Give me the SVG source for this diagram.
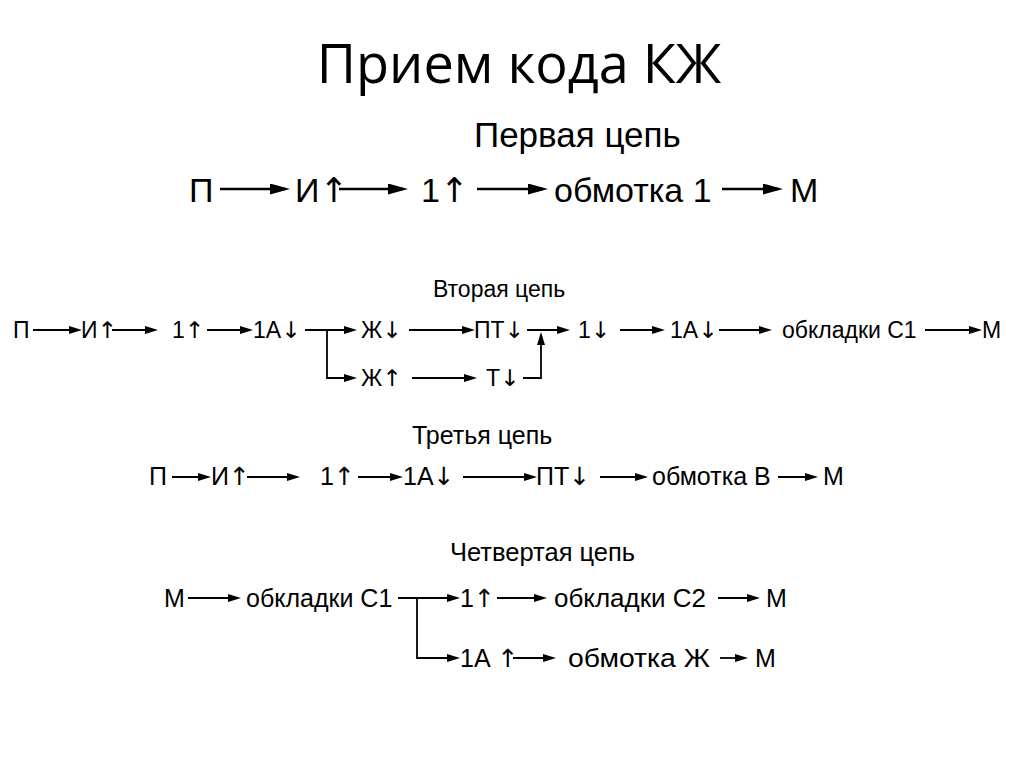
<svg xmlns="http://www.w3.org/2000/svg" width="1024" height="767" viewBox="0 0 1024 767">
<style>
text{font-family:"Liberation Sans",Arial,sans-serif;fill:#000}
.ar{font-family:"DejaVu Sans",sans-serif;fill:#000}
.title{font-family:"Open Sans","Liberation Sans",sans-serif;font-size:54px}
.r1{font-size:34px}
.h1{font-size:35px}
.r2{font-size:23px}
.r3{font-size:25px}
.r4{font-size:25px}
.h4{font-size:25.5px}
.c{fill:none;stroke:#000;stroke-width:1.8}
.cb{fill:none;stroke:#000;stroke-width:2.4}
.cs{marker-end:url(#ah)}
.cbm{marker-end:url(#ahb)}
</style>
<defs>
<marker id="ah" viewBox="0 0 13 8" refX="9" refY="4" markerWidth="13" markerHeight="8" markerUnits="userSpaceOnUse" orient="auto"><path d="M0,0 L13,4 L0,8 z" fill="#000"/></marker>
<marker id="ahb" viewBox="0 0 20 11" refX="15" refY="5.5" markerWidth="20" markerHeight="11" markerUnits="userSpaceOnUse" orient="auto"><path d="M0,0 L20,5.5 L0,11 z" fill="#000"/></marker>
</defs>
<rect width="1024" height="767" fill="#fff"/>
<text class="title" x="519" y="83" text-anchor="middle">Прием кода КЖ</text>

<!-- Chain 1 -->
<text class="h1" x="474" y="147">Первая цепь</text>
<g id="c1-p"><text class="r1" x="189" y="202">П</text></g>
<g id="c1-i"><text class="r1" x="295" y="202">И<tspan class="ar">↑</tspan></text></g>
<g id="c1-1"><text class="r1" x="421" y="202">1<tspan class="ar">↑</tspan></text></g>
<g id="c1-w1"><text class="r1" x="554" y="202">обмотка 1</text></g>
<g id="c1-m"><text class="r1" x="790" y="202">М</text></g>

<!-- Chain 2 -->
<text class="r2" x="433" y="297">Вторая цепь</text>
<g id="c2-p"><text class="r2" x="13" y="338">П</text></g>
<g id="c2-i"><text class="r2" x="81" y="338">И<tspan class="ar">↑</tspan></text></g>
<g id="c2-1"><text class="r2" x="172" y="338">1<tspan class="ar">↑</tspan></text></g>
<g id="c2-1a"><text class="r2" x="253" y="338">1А<tspan class="ar">↓</tspan></text></g>
<g id="c2-zh-d"><text class="r2" x="361" y="338">Ж<tspan class="ar">↓</tspan></text></g>
<g id="c2-pt"><text class="r2" x="474" y="338">ПТ<tspan class="ar">↓</tspan></text></g>
<g id="c2-zh-u"><text class="r2" x="361" y="386">Ж<tspan class="ar">↑</tspan></text></g>
<g id="c2-t"><text class="r2" x="486" y="386">Т<tspan class="ar">↓</tspan></text></g>
<g id="c2-1d"><text class="r2" x="578" y="338">1<tspan class="ar">↓</tspan></text></g>
<g id="c2-1a2"><text class="r2" x="670" y="338">1А<tspan class="ar">↓</tspan></text></g>
<g id="c2-c1"><text class="r2" x="782" y="338">обкладки С1</text></g>
<g id="c2-m"><text class="r2" x="982" y="338">М</text></g>

<!-- Chain 3 -->
<text class="r3" x="412" y="444">Третья цепь</text>
<g id="c3-p"><text class="r3" x="149" y="485">П</text></g>
<g id="c3-i"><text class="r3" x="211" y="485">И<tspan class="ar">↑</tspan></text></g>
<g id="c3-1"><text class="r3" x="320" y="485">1<tspan class="ar">↑</tspan></text></g>
<g id="c3-1a"><text class="r3" x="403" y="485">1А<tspan class="ar">↓</tspan></text></g>
<g id="c3-pt"><text class="r3" x="536" y="485">ПТ<tspan class="ar">↓</tspan></text></g>
<g id="c3-wb"><text class="r3" x="652" y="485">обмотка В</text></g>
<g id="c3-m"><text class="r3" x="823" y="485">М</text></g>

<!-- Chain 4 -->
<text class="h4" x="450" y="561">Четвертая цепь</text>
<g id="c4-m0"><text class="r4" x="164" y="607">М</text></g>
<g id="c4-c1"><text class="r4" x="246" y="607">обкладки С1</text></g>
<g id="c4-1"><text class="r4" x="460" y="607">1<tspan class="ar">↑</tspan></text></g>
<g id="c4-c2"><text class="r4" x="554" y="607" textLength="152" lengthAdjust="spacingAndGlyphs">обкладки С2</text></g>
<g id="c4-m1"><text class="r4" x="766" y="607">М</text></g>
<g id="c4-1a"><text class="r4" x="460" y="667">1А <tspan class="ar">↑</tspan></text></g>
<g id="c4-wzh"><text class="r4" x="568" y="667" textLength="142" lengthAdjust="spacingAndGlyphs">обмотка Ж</text></g>
<g id="c4-m2"><text class="r4" x="755" y="667">М</text></g>

<g id="connectors">
<!-- chain 1 -->
<path class="cb cbm" d="M220,189 H285"/>
<path class="cb cbm" d="M339,189 H403"/>
<path class="cb cbm" d="M477,189 H543"/>
<path class="cb cbm" d="M722,189 H778"/>
<!-- chain 2 -->
<path class="c cs" d="M33,330 H78"/>
<path class="c cs" d="M112,330 H154"/>
<path class="c cs" d="M207,330 H249"/>
<path class="c cs" d="M305,330 H353"/>
<path class="c cs" d="M327,330 V378 H353"/>
<path class="c cs" d="M409,330 H471"/>
<path class="c cs" d="M412,378 H473"/>
<path class="c cs" d="M527,330 H566"/>
<path class="c cs" d="M523,378 H541 V336"/>
<path class="c cs" d="M620,330 H661"/>
<path class="c cs" d="M719,330 H768"/>
<path class="c cs" d="M925,330 H978"/>
<!-- chain 3 -->
<path class="c cs" d="M172,477 H207"/>
<path class="c cs" d="M247,477 H296"/>
<path class="c cs" d="M358,477 H399"/>
<path class="c cs" d="M463,477 H533"/>
<path class="c cs" d="M600,477 H644"/>
<path class="c cs" d="M778,477 H814"/>
<!-- chain 4 -->
<path class="c cs" d="M188,598 H237"/>
<path class="c cs" d="M398,598 H456"/>
<path class="c cs" d="M417,598 V658 H456"/>
<path class="c cs" d="M497,598 H543"/>
<path class="c cs" d="M718,598 H756"/>
<path class="c cs" d="M513,658 H552"/>
<path class="c cs" d="M720,658 H744"/>
</g>
</svg>
